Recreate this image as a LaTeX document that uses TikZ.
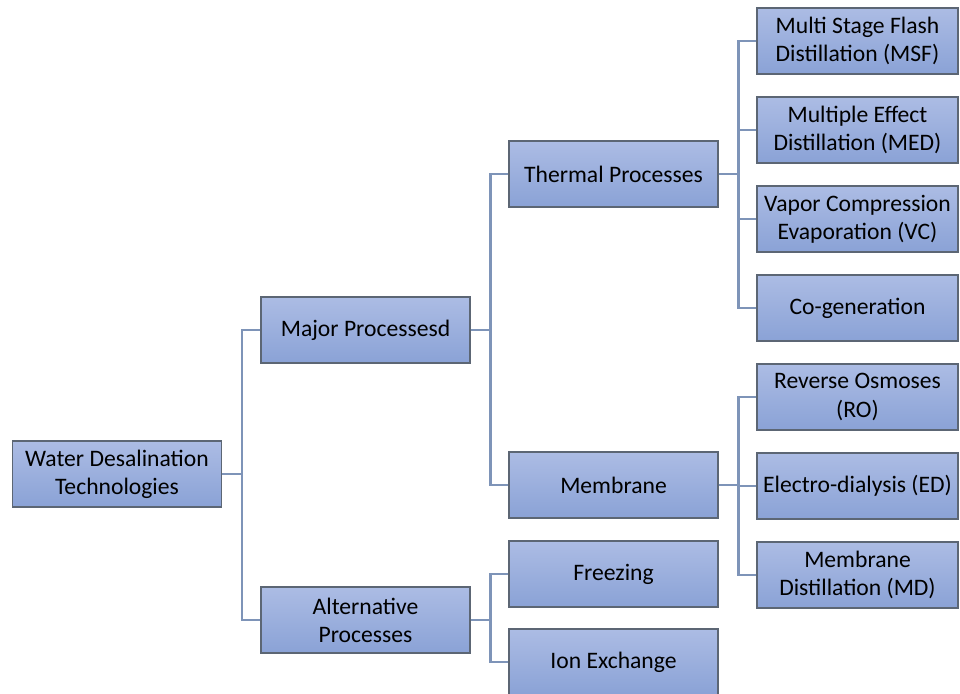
\documentclass[tikz,border=0pt]{standalone}
\usepackage{fontspec}
\setmainfont{Carlito}
\usetikzlibrary{shadows}
\definecolor{boxtop}{RGB}{172,188,228}
\definecolor{boxbot}{RGB}{138,162,214}
\definecolor{boxline}{RGB}{92,102,116}
\definecolor{linkline}{RGB}{126,148,184}
\tikzset{
    box/.style={draw=boxline, line width=0.9pt, top color=boxtop, bottom color=boxbot,
        minimum height=1.65cm, align=center, inner sep=2pt,
        font=\fontsize{16.8}{20}\selectfont,
        drop shadow={shadow xshift=0.6pt, shadow yshift=-0.6pt, opacity=0.35}},
    wide/.style={box, minimum width=5.22cm},
    narrow/.style={box, minimum width=5.02cm},
    link/.style={draw=linkline, line width=1.6pt}
}
\begin{document}
\begin{tikzpicture}[x=0.025cm, y=-0.025cm]
    \useasboundingbox (0,0) rectangle (960,693);

    \node[wide] (water) at (117,474) {Water Desalination\\Technologies};

    \node[wide] (major) at (365.5,330) {Major Processesd};
    \node[wide] (alternative) at (365.5,620) {Alternative\\Processes};

    \node[wide] (thermal) at (613.5,174) {Thermal Processes};
    \node[wide] (membrane) at (613.5,485) {Membrane};
    \node[wide] (freezing) at (613.5,574) {Freezing};
    \node[wide] (ionexchange) at (613.5,662) {Ion Exchange};

    \node[narrow] (msf) at (857.5,41) {Multi Stage Flash\\Distillation (MSF)};
    \node[narrow] (med) at (857.5,130) {Multiple Effect\\Distillation (MED)};
    \node[narrow] (vc) at (857.5,219) {Vapor Compression\\Evaporation (VC)};
    \node[narrow] (cogen) at (857.5,308) {Co-generation};
    \node[narrow] (ro) at (857.5,397) {Reverse Osmoses\\(RO)};
    \node[narrow] (ed) at (857.5,486) {Electro-dialysis (ED)};
    \node[narrow] (md) at (857.5,575) {Membrane\\Distillation (MD)};

    % level 1
    \draw[link] (water.east) -- ++(20,0) coordinate (j1);
    \draw[link] (j1) |- (major.west);
    \draw[link] (j1) |- (alternative.west);

    % level 2
    \draw[link] (major.east) -- ++(20,0) coordinate (j2);
    \draw[link] (j2) |- (thermal.west);
    \draw[link] (j2) |- (membrane.west);
    \draw[link] (alternative.east) -- ++(20,0) coordinate (j3);
    \draw[link] (j3) |- (freezing.west);
    \draw[link] (j3) |- (ionexchange.west);

    % level 3
    \draw[link] (thermal.east) -- ++(20,0) coordinate (j4);
    \foreach \n in {msf,med,vc,cogen}
        \draw[link] (j4) |- (\n.west);
    \draw[link] (membrane.east) -- ++(20,0) coordinate (j5);
    \foreach \n in {ro,ed,md}
        \draw[link] (j5) |- (\n.west);
\end{tikzpicture}
\end{document}
